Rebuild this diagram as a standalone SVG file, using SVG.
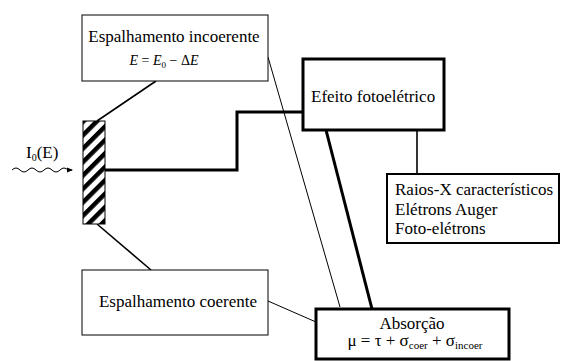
<svg xmlns="http://www.w3.org/2000/svg" width="564" height="361" viewBox="0 0 564 361" font-family="'Liberation Serif', 'Times New Roman', serif">
<style>
text{font-family:"Liberation Serif","Times New Roman",serif;fill:#000}
.t{font-size:17px}
.box{fill:#fff;stroke:#000;stroke-width:1}
.bold{fill:#fff;stroke:#000;stroke-width:3}
.mid{fill:#fff;stroke:#000;stroke-width:2}
.thin{stroke:#000;stroke-width:1;fill:none}
.med{stroke:#000;stroke-width:1.6;fill:none}
.thick{stroke:#000;stroke-width:3;fill:none}
</style>
<defs>
<pattern id="hatch" patternUnits="userSpaceOnUse" width="9.5" height="9.5" patternTransform="rotate(45)">
<rect width="9.5" height="9.5" fill="#fff"/>
<rect x="0" y="0" width="4.5" height="9.5" fill="#000"/>
</pattern>
<marker id="arr" markerWidth="6" markerHeight="6" refX="5" refY="3" orient="auto" markerUnits="userSpaceOnUse">
<path d="M0,0.5 L6,3 L0,5.5 Z" fill="#000"/>
</marker>
</defs>
<rect width="564" height="361" fill="#fff"/>
<g id="connectors">
<line class="med" x1="97" y1="121" x2="156" y2="81"/>
<line class="med" x1="97" y1="224" x2="151" y2="270"/>
<polyline class="thick" points="105,170 237,170 237,112 303,112"/>
<line class="thin" x1="268" y1="57" x2="340" y2="307"/>
<line class="thick" x1="326" y1="130" x2="372" y2="309"/>
<line class="med" x1="417" y1="130" x2="417" y2="174"/>
<line class="thin" x1="268" y1="301" x2="316" y2="322"/>
<path class="thin" d="M12,170 q4,-4 8,0 t8,0 t8,0 t8,0 t8,0 t8,0 t8,0 l4,0" marker-end="url(#arr)"/>
</g>
<g id="source">
<text class="t" x="26" y="158">I<tspan font-size="10" dy="3">0</tspan><tspan dy="-3">(E)</tspan></text>
</g>
<g id="sample">
<rect x="83" y="121" width="22" height="103" fill="url(#hatch)" stroke="#000" stroke-width="1"/>
</g>
<g id="incoerente">
<rect class="box" x="82" y="15" width="186" height="66"/>
<text class="t" x="174" y="42" text-anchor="middle">Espalhamento incoerente</text>
<text x="164" y="65" text-anchor="middle" font-size="14"><tspan font-style="italic">E</tspan> = <tspan font-style="italic">E</tspan><tspan font-size="9" dy="3">0</tspan><tspan dy="-3"> − Δ</tspan><tspan font-style="italic">E</tspan></text>
</g>
<g id="fotoeletrico">
<rect class="bold" x="303" y="59" width="141" height="71"/>
<text class="t" x="311" y="102">Efeito fotoelétrico</text>
</g>
<g id="raios">
<rect class="mid" x="387" y="174" width="172" height="69"/>
<text class="t" x="395" y="195">Raios-X característicos</text>
<text class="t" x="395" y="215">Elétrons Auger</text>
<text class="t" x="395" y="234">Foto-elétrons</text>
</g>
<g id="coerente">
<rect class="box" x="82" y="270" width="186" height="65"/>
<text class="t" x="178" y="307" text-anchor="middle">Espalhamento coerente</text>
</g>
<g id="absorcao">
<rect class="bold" x="316" y="309" width="193" height="50"/>
<text class="t" x="412" y="329" text-anchor="middle">Absorção</text>
<text class="t" x="415" y="346" text-anchor="middle">μ = τ + σ<tspan font-size="11" dy="3">coer</tspan><tspan dy="-3"> + σ</tspan><tspan font-size="11" dy="3">incoer</tspan></text>
</g>
</svg>
